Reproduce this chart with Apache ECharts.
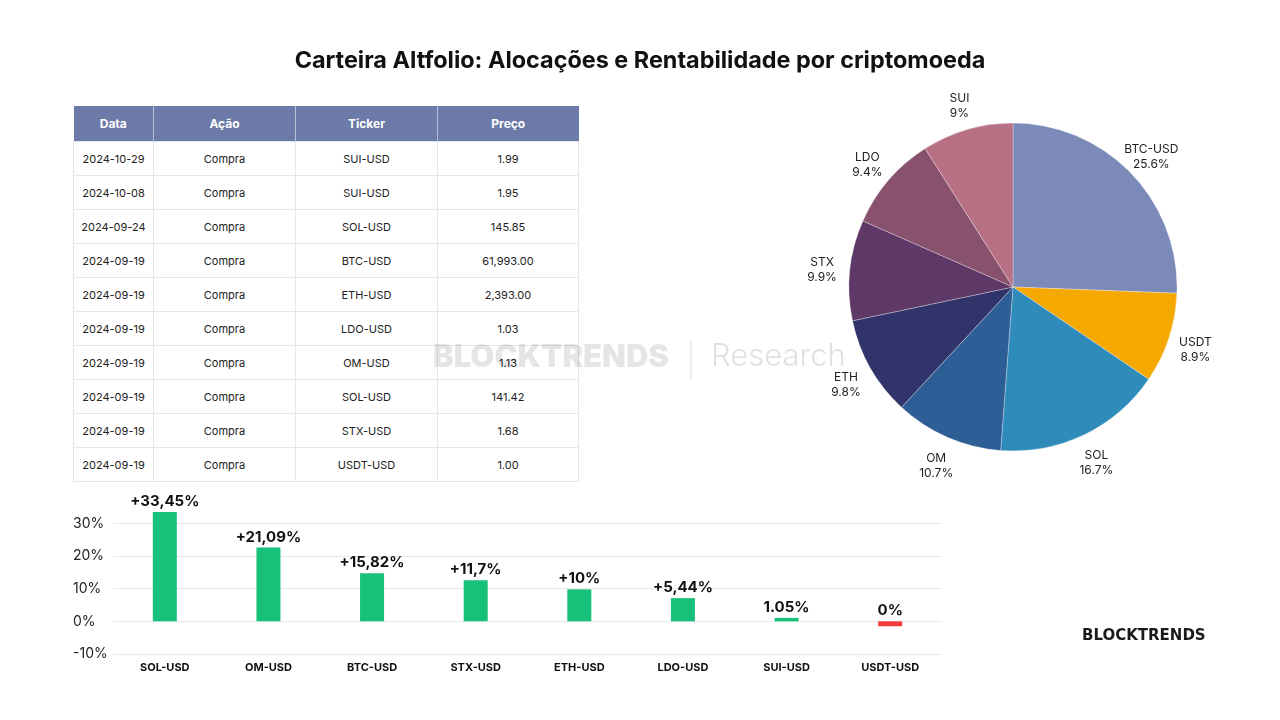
<!DOCTYPE html>
<html>
<head>
<meta charset="utf-8">
<script src="https://cdn.jsdelivr.net/npm/echarts@6/dist/echarts.min.js"></script>
<style>
  html, body { margin: 0; padding: 0; background: #fff; }
  #wrap { position: relative; width: 1280px; height: 720px; font-family: Inter, "Noto Sans", sans-serif; }
  #trades { position: absolute; left: 73px; top: 106px; width: 505px; table-layout: fixed; border-collapse: collapse; z-index: 0; }
  #trades th { background: #6b7aa8; color: #fff; font-size: 12px; font-weight: 700; height: 35px; padding: 0; border-left: 1px solid #b9c1d8; }
  #trades th:first-child { border-left: none; }
  #trades td { font-size: 11px; color: #222; height: 33px; padding: 0; text-align: center; border: 1px solid #e4e7ef; }
  #chart { position: absolute; left: 0; top: 0; width: 1280px; height: 720px; z-index: 1; }
</style>
</head>
<body>
<div id="wrap">
  <table id="trades"></table>
  <div id="chart"></div>
</div>
<script>
// tabela de operações
const tableHeader = ["Data", "Ação", "Ticker", "Preço"];
const colWidths = [80, 142, 142, 141];
const tradeDates = ["2024-10-29", "2024-10-08", "2024-09-24", "2024-09-19", "2024-09-19", "2024-09-19", "2024-09-19", "2024-09-19", "2024-09-19", "2024-09-19"];
const tradeActions = ["Compra", "Compra", "Compra", "Compra", "Compra", "Compra", "Compra", "Compra", "Compra", "Compra"];
const tradeTickers = ["SUI-USD", "SUI-USD", "SOL-USD", "BTC-USD", "ETH-USD", "LDO-USD", "OM-USD", "SOL-USD", "STX-USD", "USDT-USD"];
const tradePrices = ["1.99", "1.95", "145.85", "61,993.00", "2,393.00", "1.03", "1.13", "141.42", "1.68", "1.00"];

// alocação (pizza)
const pieNames = ["BTC-USD", "USDT", "SOL", "OM", "ETH", "STX", "LDO", "SUI"];
const pieValues = [25.6, 8.9, 16.7, 10.7, 9.8, 9.9, 9.4, 9];
const pieColors = ["#7b8ab8", "#f5a800", "#2e8bba", "#2e5e96", "#31346b", "#5e3866", "#88526f", "#b87184"];

// rentabilidade (barras)
const barCategories = ["SOL-USD", "OM-USD", "BTC-USD", "STX-USD", "ETH-USD", "LDO-USD", "SUI-USD", "USDT-USD"];
const barValues = [33.45, 22.6, 14.7, 12.6, 9.8, 7.1, 1.05, -1.5];
const barLabels = ["+33,45%", "+21,09%", "+15,82%", "+11,7%", "+10%", "+5,44%", "1.05%", "0%"];
const barColors = ["#17c17a", "#17c17a", "#17c17a", "#17c17a", "#17c17a", "#17c17a", "#17c17a", "#f23a3a"];

// monta a tabela
let html = "<colgroup>";
colWidths.forEach(function (w) {
  html += '<col style="width:' + w + 'px">';
});
html += "</colgroup><tr>";
tableHeader.forEach(function (h) {
  html += "<th>" + h + "</th>";
});
html += "</tr>";
for (let i = 0; i < tradeDates.length; i++) {
  html += "<tr><td>" + tradeDates[i] + "</td><td>" + tradeActions[i] + "</td><td>" + tradeTickers[i] + "</td><td>" + tradePrices[i] + "</td></tr>";
}
document.getElementById("trades").innerHTML = html;

const myChart = echarts.init(document.getElementById("chart"));
const font = "Inter";

let option = {
  textStyle: { fontFamily: font },
  title: {
    text: "Carteira Altfolio: Alocações e Rentabilidade por criptomoeda",
    left: "center",
    top: 44,
    textStyle: { fontFamily: font, fontSize: 23.4, fontWeight: 700, color: "#111" },
  },
  grid: { left: 113, right: 338, top: 507, bottom: 66 },
  xAxis: {
    type: "category",
    data: barCategories,
    axisLine: { show: false },
    axisTick: { show: false },
    axisLabel: { fontFamily: font, fontSize: 11, fontWeight: 700, color: "#111", margin: 8 },
  },
  yAxis: {
    type: "value",
    min: -10,
    max: 35,
    interval: 10,
    axisLabel: {
      fontFamily: font,
      fontSize: 14,
      color: "#222",
      align: "left",
      margin: 40,
      formatter: function (v) {
        return v === 35 ? "" : v + "%";
      },
    },
    splitLine: {
      lineStyle: { color: ["#e8e8ef", "#e8e8ef", "#e8e8ef", "#e8e8ef", "#e8e8ef", "rgba(0,0,0,0)"] },
    },
  },
  series: [
    {
      type: "bar",
      barWidth: 24,
      data: barValues.map(function (v, i) {
        return { value: v, itemStyle: { color: barColors[i] } };
      }),
      label: {
        show: true,
        position: "top",
        distance: 3,
        fontFamily: font,
        fontSize: 15,
        fontWeight: 700,
        color: "#111",
        formatter: function (p) {
          return barLabels[p.dataIndex];
        },
      },
    },
    {
      type: "pie",
      center: [1013, 287],
      radius: 164,
      startAngle: 90,
      clockwise: true,
      data: pieNames.map(function (n, i) {
        return { name: n, value: pieValues[i], itemStyle: { color: pieColors[i] } };
      }),
      itemStyle: { borderColor: "rgba(255,255,255,0.6)", borderWidth: 0.5 },
      label: {
        show: true,
        position: "outside",
        fontFamily: font,
        fontSize: 12,
        color: "#222",
        lineHeight: 15,
        formatter: function (p) {
          return p.name + "\n" + p.value + "%";
        },
      },
      labelLine: { show: true, length: 28, length2: 0, lineStyle: { opacity: 0 } },
      labelLayout: function (params) {
        const pts = params.labelLinePoints;
        if (!pts) return {};
        return { x: pts[1][0], y: pts[1][1] + 3, align: "center", verticalAlign: "middle" };
      },
      emphasis: { disabled: true },
    },
  ],
  graphic: [
    {
      type: "text",
      left: 433,
      top: 342,
      z: 100,
      style: { text: "BLOCKTRENDS", font: "900 31px Inter", fill: "rgba(0,0,0,0.1)" },
    },
    {
      type: "rect",
      left: 690,
      top: 340,
      z: 100,
      shape: { width: 1.5, height: 40 },
      style: { fill: "rgba(0,0,0,0.1)" },
    },
    {
      type: "text",
      left: 711,
      top: 341,
      z: 100,
      style: { text: "Research", font: "300 31px Inter", fill: "rgba(0,0,0,0.12)" },
    },
    {
      type: "text",
      left: 1082,
      top: 629,
      style: { text: "BLOCKTRENDS", font: "bold 15px 'DejaVu Sans'", fill: "#1a1a1a" },
    },
  ],
};
myChart.setOption(option);
</script>
</body>
</html>
